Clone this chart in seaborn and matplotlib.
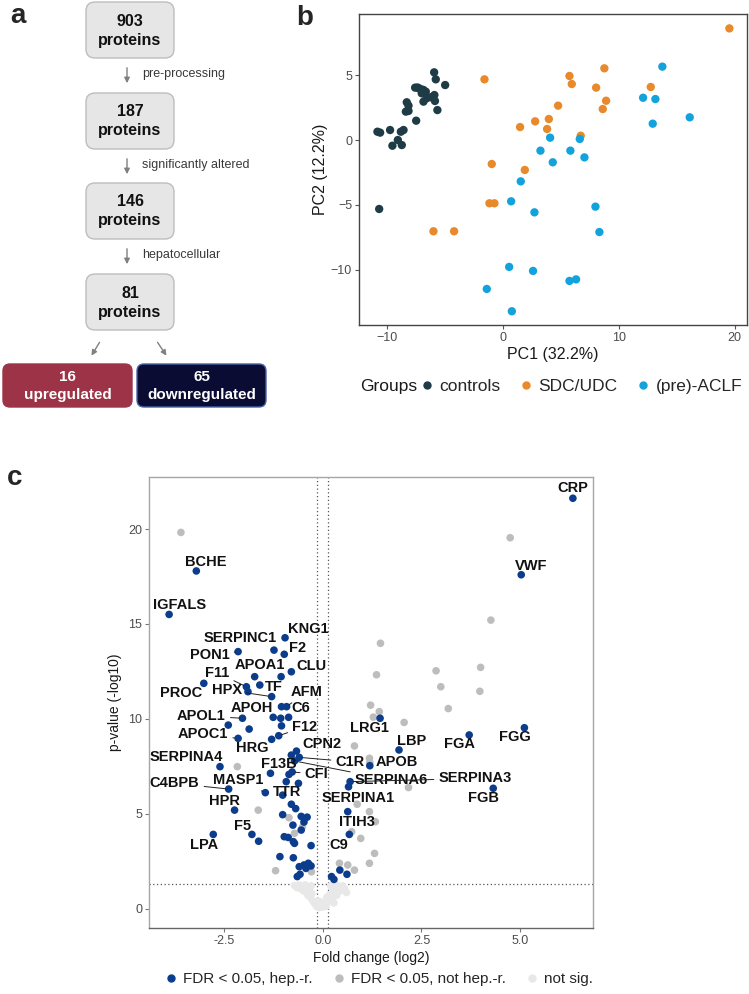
import matplotlib
matplotlib.use("Agg")
import matplotlib.pyplot as plt
from matplotlib.patches import FancyBboxPatch
from matplotlib.lines import Line2D
import seaborn as sns
import pandas as pd

sns.set_theme(style="white")
plt.rcParams["font.family"] = ["Liberation Sans", "DejaVu Sans"]

W, H = 749, 994

# ---------- panel a: flow chart ----------
flow_counts = ["903", "187", "146", "81"]
flow_steps = ["pre-processing", "significantly altered", "hepatocellular"]
split_counts = ["16", "65"]
split_labels = ["upregulated", "downregulated"]

# ---------- panel b: PCA ----------
ctrl_pc1 = [-5.92, -5.78, -4.97, -7.56, -7.22, -6.84, -6.64, -6.99, -5.90, -5.85,
            -6.56, -6.84, -5.64, -8.28, -8.13, -8.36, -8.13, -7.47, -10.81, -10.58,
            -9.72, -8.79, -8.56, -9.05, -9.52, -8.71, -10.66, -7.00, -6.20, -7.35]
ctrl_pc2 = [5.22, 4.68, 4.24, 4.04, 3.98, 3.86, 3.73, 3.60, 3.47, 3.01,
            3.22, 2.96, 2.31, 2.91, 2.65, 2.19, 2.24, 1.49, 0.64, 0.57,
            0.77, 0.64, 0.77, 0.00, -0.44, -0.39, -5.32, 3.90, 3.30, 4.05]
sdc_pc1 = [19.54, -1.58, 5.75, 5.95, 8.76, 8.05, 12.76, 8.91, 4.77, 8.62, 3.97,
           2.79, 1.49, 3.82, 6.72, -0.95, 1.90, -1.15, -0.72, -5.98, -4.20]
sdc_pc2 = [8.61, 4.68, 4.94, 4.32, 5.53, 4.04, 4.09, 3.03, 2.65, 2.39, 1.62,
           1.44, 1.00, 0.85, 0.33, -1.85, -2.31, -4.88, -4.88, -7.04, -7.04]
aclf_pc1 = [13.76, 12.10, 13.16, 16.12, 12.93, 4.08, 6.64, 3.25, 5.83, 7.04, 4.31,
            1.55, 0.72, 2.73, 7.99, 8.33, 0.55, 2.61, 5.75, 6.32, -1.38, 0.78]
aclf_pc2 = [5.66, 3.26, 3.16, 1.75, 1.26, 0.18, 0.08, -0.82, -0.82, -1.34, -1.72,
            -3.19, -4.73, -5.58, -5.14, -7.10, -9.79, -10.10, -10.87, -10.75, -11.49, -13.21]
group_names = ["controls", "SDC/UDC", "(pre)-ACLF"]
group_colors = ["#1f3b45", "#e8892b", "#12a3dc"]

# ---------- panel c: volcano ----------
hep_fc = [-3.21, -3.90, -0.96, -1.24, -0.98, -2.15, -0.80, -1.73, -1.06, -3.02,
          -1.60, -1.94, -1.90, -1.30, -1.05, -0.92, -1.26, -1.07, -0.87, -2.04,
          -2.40, -1.87, -1.05, -2.15, -1.12, -1.30, -0.67, -0.80, -0.60, -0.72,
          -2.61, -1.33, -0.86, -0.78, -0.93, -0.62, -2.39, -1.46, -1.02, -0.80,
          -0.69, -2.24, -1.02, -0.55, -0.40, -0.48, -0.76, -0.55, -2.78, -1.80,
          -1.63, -0.98, -0.88, -0.75, -0.72, -0.30, -1.09, -0.75, -0.60, -0.48,
          -0.37, -0.30, -0.43, -0.58, -0.65,
          6.34, 5.03, 5.11, 3.71, 4.32, 1.93, 1.19, 1.45, 0.69, 0.65,
          0.63, 0.67, 0.61, 0.43, 0.22, 0.28]
hep_p = [17.79, 15.50, 14.27, 13.62, 13.40, 13.54, 12.48, 12.22, 12.22, 11.87,
         11.78, 11.69, 11.43, 11.17, 10.64, 10.64, 10.08, 10.03, 10.08, 10.03,
         9.67, 9.46, 9.63, 8.97, 9.11, 8.92, 8.30, 8.09, 7.97, 7.78,
         7.48, 7.13, 7.07, 7.20, 6.69, 6.60, 6.30, 6.11, 5.98, 5.50,
         5.27, 5.19, 4.95, 4.86, 4.82, 4.56, 4.40, 4.14, 3.91, 3.91,
         3.55, 3.79, 3.75, 3.53, 3.44, 3.32, 2.74, 2.68, 2.21, 2.30,
         2.39, 2.25, 2.12, 1.81, 1.69,
         21.62, 17.59, 9.53, 9.15, 6.34, 8.36, 7.53, 10.03, 6.69, 6.42,
         5.11, 3.91, 1.81, 2.03, 1.69, 1.54]
nonhep_fc = [-3.60, 4.75, 4.26, 1.46, 1.36, 2.87, 4.00, 2.99, 3.98, 3.18,
             1.21, 1.43, 1.28, 2.06, 0.80, 1.18, 1.19, -2.17, 2.17, -1.64,
             1.18, 0.87, 1.33, 0.73, 0.96, -0.86, -0.72, -1.20, -0.29, 0.42,
             0.63, 0.80, 1.18, 1.31, -0.52]
nonhep_p = [19.82, 19.54, 15.20, 13.98, 12.32, 12.53, 12.71, 11.69, 11.45, 10.54,
            10.72, 10.38, 10.09, 9.81, 8.57, 7.92, 7.70, 7.48, 6.38, 5.19,
            5.11, 5.50, 4.58, 4.05, 3.70, 4.79, 3.97, 2.00, 1.94, 2.39,
            2.30, 2.03, 2.39, 2.91, 4.30]
ns_fc = [-0.72, -0.65, -0.60, -0.55, -0.50, -0.48, -0.42, -0.38, -0.35, -0.30,
         -0.28, -0.25, -0.22, -0.18, -0.15, -0.10, -0.05, 0.00, 0.05, 0.08,
         0.12, 0.15, 0.18, 0.22, 0.25, 0.30, 0.35, 0.40, 0.45, 0.50,
         0.55, 0.60, -0.45, 0.20, 0.35, -0.12, 0.10, -0.05, 0.28, -0.30]
ns_p = [1.22, 1.10, 1.25, 1.05, 0.95, 1.15, 0.85, 0.70, 1.00, 0.55,
        0.80, 0.40, 0.30, 0.20, 0.10, 0.05, 0.15, 0.08, 0.25, 0.12,
        0.35, 0.55, 0.75, 0.45, 0.90, 1.05, 0.70, 1.15, 0.95, 1.20,
        1.05, 0.85, 1.25, 1.20, 1.25, 0.40, 0.60, 0.35, 0.30, 1.20]
status_names = ["FDR < 0.05, hep.-r.", "FDR < 0.05, not hep.-r.", "not sig."]
status_colors = ["#0b3d8c", "#bdbdbd", "#e8e8e8"]

# labelled proteins: point it refers to
gene_points = {
    "BCHE": (-3.21, 17.79), "IGFALS": (-3.90, 15.50), "KNG1": (-0.96, 14.27),
    "SERPINC1": (-1.24, 13.62), "F2": (-0.98, 13.40), "PON1": (-2.15, 13.54),
    "CLU": (-0.80, 12.48), "APOA1": (-1.73, 12.22), "F11": (-1.94, 11.69),
    "TF": (-1.60, 11.78), "HPX": (-1.30, 11.17), "PROC": (-3.02, 11.87),
    "AFM": (-0.92, 10.64), "APOH": (-1.26, 10.08), "C6": (-1.05, 10.64),
    "APOL1": (-2.04, 10.03), "F12": (-1.12, 9.11), "LRG1": (1.45, 10.03),
    "APOC1": (-2.15, 8.97), "LBP": (1.93, 8.36), "CPN2": (-0.67, 8.30),
    "HRG": (-1.30, 8.92), "SERPINA4": (-2.61, 7.48), "F13B": (-1.33, 7.13),
    "C1R": (-0.60, 7.97), "APOB": (1.19, 7.53), "CFI": (-0.78, 7.20),
    "SERPINA6": (-0.72, 7.78), "SERPINA3": (0.69, 6.69), "C4BPB": (-2.39, 6.30),
    "MASP1": (-1.46, 6.11), "TTR": (-1.02, 5.98), "SERPINA1": (0.63, 5.11),
    "HPR": (-2.24, 5.19), "ITIH3": (0.67, 3.91), "F5": (-1.80, 3.91),
    "LPA": (-2.78, 3.91), "C9": (0.43, 2.03), "CRP": (6.34, 21.62),
    "VWF": (5.03, 17.59), "FGA": (3.71, 9.15), "FGG": (5.11, 9.53),
    "FGB": (4.32, 6.34),
}

# where the label text sits, and whether a connector is drawn
label_pos = {
    "BCHE": (-2.97, 18.24, False), "IGFALS": (-3.63, 16.0, False), "KNG1": (-0.37, 14.71, False),
    "SERPINC1": (-2.11, 14.24, True), "F2": (-0.63, 13.71, False), "PON1": (-2.87, 13.36, True),
    "CLU": (-0.29, 12.78, False), "APOA1": (-1.60, 12.83, True), "F11": (-2.68, 12.43, True),
    "TF": (-1.24, 11.69, False), "HPX": (-2.44, 11.52, True), "PROC": (-3.59, 11.34, False),
    "AFM": (-0.41, 11.43, True), "APOH": (-1.81, 10.55, False), "C6": (-0.57, 10.55, False),
    "APOL1": (-3.08, 10.15, True), "F12": (-0.46, 9.58, True), "LRG1": (1.19, 9.50, False),
    "APOC1": (-3.04, 9.18, True), "LBP": (2.25, 8.85, False), "CPN2": (-0.03, 8.67, False),
    "HRG": (-1.78, 8.44, False), "SERPINA4": (-3.46, 7.97, False), "F13B": (-1.11, 7.62, False),
    "C1R": (0.69, 7.74, True), "APOB": (1.87, 7.71, False), "CFI": (-0.16, 7.09, True),
    "SERPINA6": (1.74, 6.78, True), "SERPINA3": (3.86, 6.86, True), "C4BPB": (-3.76, 6.60, True),
    "MASP1": (-2.15, 6.78, True), "TTR": (-0.92, 6.16, False), "SERPINA1": (0.90, 5.81, False),
    "HPR": (-2.49, 5.69, False), "ITIH3": (0.87, 4.58, False), "F5": (-2.04, 4.35, False),
    "LPA": (-3.00, 3.35, False), "C9": (0.41, 3.35, False), "CRP": (6.35, 22.14, False),
    "VWF": (5.27, 18.07, False), "FGA": (3.46, 8.67, False), "FGG": (4.86, 9.06, False),
    "FGB": (4.07, 5.81, False),
}


def px_rect(l, t, r, b):
    return [l / W, 1 - b / H, (r - l) / W, (b - t) / H]


fig = plt.figure(figsize=(W / 100, H / 100), dpi=100)

# ---------------- panel a ----------------
ax_a = fig.add_axes(px_rect(0, 0, 360, 420))
ax_a.set_xlim(0, 360)
ax_a.set_ylim(420, 0)
ax_a.axis("off")

box_tops = [2, 93, 183, 274]
for i, n in enumerate(flow_counts):
    t = box_tops[i]
    ax_a.add_patch(FancyBboxPatch((86, t), 88, 56, boxstyle="round,pad=0,rounding_size=9",
                                  fc="#e6e6e6", ec="#bdbdbd", lw=1))
    ax_a.text(130, t + 19, n, ha="center", va="center", fontsize=11.5, fontweight="bold", color="#111111")
    ax_a.text(130, t + 38, "proteins", ha="center", va="center", fontsize=11.5, fontweight="bold", color="#111111")
    if i < len(flow_steps):
        y0 = t + 63
        ax_a.annotate("", xy=(127, y0 + 21), xytext=(127, y0),
                      arrowprops=dict(arrowstyle="-|>", color="#808080", lw=1, mutation_scale=8))
        ax_a.text(142, y0 + 9, flow_steps[i], ha="left", va="center", fontsize=9, color="#3a3a3a")

for start, end in [((101, 340), (90, 358)), ((156, 340), (168, 358))]:
    ax_a.annotate("", xy=end, xytext=start,
                  arrowprops=dict(arrowstyle="-|>", color="#808080", lw=1, mutation_scale=8))

split_boxes = [(3, "#9d3347", "#9d3347"), (137, "#0b0c33", "#4a63a8")]
for (x0, fc, ec), n, lab in zip(split_boxes, split_counts, split_labels):
    ax_a.add_patch(FancyBboxPatch((x0, 364), 129, 43, boxstyle="round,pad=0,rounding_size=7",
                                  fc=fc, ec=ec, lw=1))
    ax_a.text(x0 + 64.5, 377, n, ha="center", va="center", fontsize=11, fontweight="bold", color="white")
    ax_a.text(x0 + 64.5, 395, lab, ha="center", va="center", fontsize=11, fontweight="bold", color="white")

# ---------------- panel b ----------------
df_b = pd.DataFrame({
    "PC1": ctrl_pc1 + sdc_pc1 + aclf_pc1,
    "PC2": ctrl_pc2 + sdc_pc2 + aclf_pc2,
    "Groups": [group_names[0]] * len(ctrl_pc1) + [group_names[1]] * len(sdc_pc1)
              + [group_names[2]] * len(aclf_pc1),
})
ax_b = fig.add_axes(px_rect(359, 14, 747, 325))
sns.scatterplot(data=df_b, x="PC1", y="PC2", hue="Groups", hue_order=group_names,
                palette=dict(zip(group_names, group_colors)), s=36, edgecolor="none",
                legend=False, ax=ax_b)
ax_b.set_xlim(-12.4, 21.06)
ax_b.set_ylim(-14.27, 9.72)
ax_b.set_xticks([-10, 0, 10, 20])
ax_b.set_yticks([-10, -5, 0, 5])
ax_b.set_xlabel("PC1 (32.2%)", fontsize=11.5, color="#1a1a1a", labelpad=2)
ax_b.set_ylabel("PC2 (12.2%)", fontsize=11.5, color="#1a1a1a", labelpad=2)
ax_b.tick_params(axis="both", length=3, width=0.8, color="#555555", labelsize=9,
                 labelcolor="#4d4d4d", pad=2, bottom=True, left=True)
for sp in ax_b.spines.values():
    sp.set_color("#444444")
    sp.set_linewidth(1)

fig.text(360 / W, 1 - 386 / H, "Groups", fontsize=12.5, va="center", ha="left", color="#1a1a1a")
handles_b = [Line2D([0], [0], marker="o", ls="", color=c, markersize=5) for c in group_colors]
fig.legend(handles_b, group_names, loc="center left", bbox_to_anchor=(418 / W, 1 - 386 / H),
           ncol=3, frameon=False, fontsize=12.5, handletextpad=0.2, columnspacing=1.0,
           handlelength=1.0, borderaxespad=0, borderpad=0)

# ---------------- panel c ----------------
df_c = pd.DataFrame({
    "fc": ns_fc + nonhep_fc + hep_fc,
    "p": ns_p + nonhep_p + hep_p,
    "status": [status_names[2]] * len(ns_fc) + [status_names[1]] * len(nonhep_fc)
              + [status_names[0]] * len(hep_fc),
})
ax_c = fig.add_axes(px_rect(149, 477, 593, 928))
ax_c.axvline(-0.1375, color="#555555", ls=(0, (1, 2)), lw=0.9, zorder=0)
ax_c.axvline(0.1375, color="#555555", ls=(0, (1, 2)), lw=0.9, zorder=0)
ax_c.axhline(1.301, color="#555555", ls=(0, (1, 2)), lw=0.9, zorder=0)
sns.scatterplot(data=df_c, x="fc", y="p", hue="status", hue_order=status_names,
                palette=dict(zip(status_names, status_colors)), s=30, edgecolor="none",
                legend=False, ax=ax_c, zorder=2)

for name, (tx, ty, line) in label_pos.items():
    px, py = gene_points[name]
    if line:
        ax_c.annotate(name, xy=(px, py), xytext=(tx, ty), ha="center", va="center",
                      fontsize=10.5, fontweight="bold", color="#111111", zorder=4,
                      arrowprops=dict(arrowstyle="-", color="#222222", lw=0.7,
                                      shrinkA=1, shrinkB=2))
    else:
        ax_c.text(tx, ty, name, ha="center", va="center", fontsize=10.5,
                  fontweight="bold", color="#111111", zorder=4)

ax_c.set_xlim(-4.41, 6.85)
ax_c.set_ylim(-1.02, 22.74)
ax_c.set_xticks([-2.5, 0, 2.5, 5.0])
ax_c.set_xticklabels(["-2.5", "0.0", "2.5", "5.0"])
ax_c.set_yticks([0, 5, 10, 15, 20])
ax_c.set_xlabel("Fold change (log2)", fontsize=10, color="#1a1a1a", labelpad=3)
ax_c.set_ylabel("p-value (-log10)", fontsize=10, color="#1a1a1a", labelpad=4)
ax_c.tick_params(axis="both", length=3, width=0.8, color="#777777", labelsize=9,
                 labelcolor="#4d4d4d", pad=2, bottom=True, left=True)
for sp in ax_c.spines.values():
    sp.set_color("#a6a6a6")
    sp.set_linewidth(1)
ax_c.spines["bottom"].set_color("#666666")

handles_c = [Line2D([0], [0], marker="o", ls="", color=c, markersize=5) for c in status_colors]
fig.legend(handles_c, status_names, loc="center", bbox_to_anchor=(378 / W, 1 - 979 / H),
           ncol=3, frameon=False, fontsize=11, handletextpad=0.3, columnspacing=1.2,
           handlelength=1.0, borderaxespad=0, borderpad=0)

# panel letters
fig.text(10 / W, 1 - 16 / H, "a", fontsize=20, fontweight="bold", ha="left", va="center")
fig.text(305 / W, 1 - 18 / H, "b", fontsize=20, fontweight="bold", ha="center", va="center")
fig.text(15 / W, 1 - 478 / H, "c", fontsize=20, fontweight="bold", ha="center", va="center")

fig.savefig("out.png", dpi=100)
